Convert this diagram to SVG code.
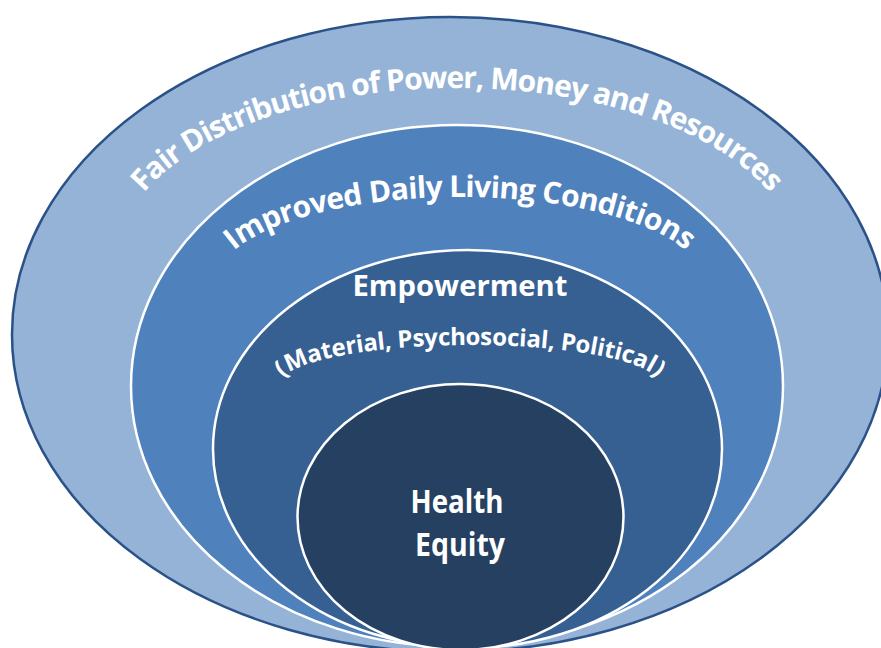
<svg xmlns="http://www.w3.org/2000/svg" width="881" height="648" viewBox="0 0 881 648">
  <style>
    .lbl { font-family: "Open Sans", "Noto Sans", "Liberation Sans", sans-serif; font-weight: 700; fill: #ffffff; }
    .ring { stroke: #ffffff; stroke-width: 2.5; }
  </style>
  <defs>
    <!-- baselines for the curved ring labels -->
    <path id="arcOuter" d="M 117 260 A 340 172 0 0 1 797 260"/>
    <path id="arcDaily" d="M 217 282 A 243 85 0 0 1 703 282"/>
    <path id="arcEmp" d="M 280 385 A 190 40 0 0 1 660 385"/>
  </defs>
  <rect width="881" height="648" fill="#ffffff"/>

  <g id="ring-distribution">
    <ellipse cx="450" cy="334.5" rx="438" ry="317.5" fill="#95b3d7" stroke="#2b5288" stroke-width="2.5"/>
    <text class="lbl" font-size="30"><textPath href="#arcOuter" startOffset="50%" text-anchor="middle" textLength="678" lengthAdjust="spacing">Fair Distribution of Power, Money and Resources</textPath></text>
  </g>

  <g id="ring-living">
    <ellipse class="ring" cx="457" cy="386" rx="326" ry="261" fill="#4f81bd"/>
    <text class="lbl" font-size="30"><textPath href="#arcDaily" startOffset="50%" text-anchor="middle" textLength="472" lengthAdjust="spacing">Improved Daily Living Conditions</textPath></text>
  </g>

  <g id="ring-empowerment">
    <ellipse class="ring" cx="467.5" cy="449" rx="254.5" ry="199" fill="#376092"/>
    <text class="lbl" font-size="29" x="460" y="296" text-anchor="middle" textLength="215" lengthAdjust="spacingAndGlyphs">Empowerment</text>
    <text class="lbl" font-size="24"><textPath href="#arcEmp" startOffset="50%" text-anchor="middle" textLength="385" lengthAdjust="spacing">(Material, Psychosocial, Political)</textPath></text>
  </g>

  <g id="core-health-equity">
    <ellipse class="ring" cx="460.5" cy="517" rx="163" ry="133" fill="#254061"/>
    <text class="lbl" font-size="33" x="457" y="513" text-anchor="middle" textLength="93" lengthAdjust="spacingAndGlyphs">Health</text>
    <text class="lbl" font-size="33" x="460" y="556" text-anchor="middle" textLength="90" lengthAdjust="spacingAndGlyphs">Equity</text>
  </g>

  <g id="connectors"/>
</svg>
